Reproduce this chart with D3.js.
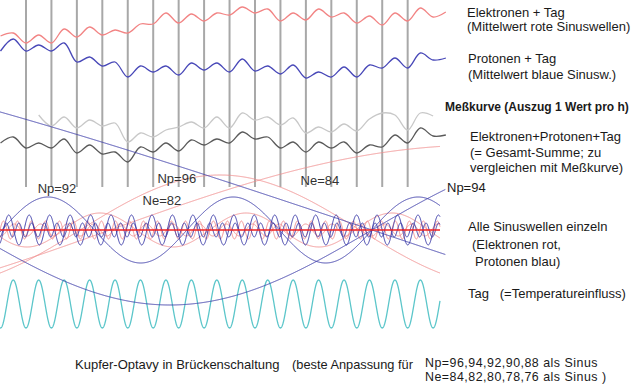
<!DOCTYPE html>
<html><head><meta charset="utf-8">
<script src="https://cdn.jsdelivr.net/npm/d3@7"></script>
<style>
body{margin:0;background:#fff}
svg{display:block}
text{font-family:"Liberation Sans",Arial,sans-serif;fill:#1a1a1a;white-space:pre}
</style>
</head><body>
<svg id="c" width="636" height="392"></svg>
<script>
// ---- time axis (hours), sampled every 12 h ----
const hours = [0,12,24,36,48,60,72,84,96,108,120,132,144,156,168,180,192,204,216,228,240,252,264,276,288,300,312,324,336,348,360,372,384,396,408,420];
// Elektronen + Tag (mean of red sine waves), level units
const electronsTag = [356,359,349,357,349,363,355,365,357,362,359,368,368,379,369,378,371,379,377,385,379,383,371,379,372,383,375,379,369,376,367,379,371,384,375,380];
// Protonen + Tag (mean of blue sine waves)
const protonsTag = [341,353,341,347,341,349,330,335,326,330,315,326,320,326,317,329,322,329,320,333,321,326,318,327,314,320,315,325,315,327,324,334,324,339,332,334];
// Meßkurve (measured), starts at 36 h
const measHours = [36,48,60,72,84,96,108,120,132,144,156,168,180,192,204,216,228,240,252,264,276,288,300,312,324,336,348,360,372,384,396,408];
const measured = [277,266,275,264,272,266,269,250,259,255,262,265,270,264,275,264,279,272,275,267,274,259,265,260,268,261,273,279,277,262,279,276];
// Elektronen + Protonen + Tag (total)
const totalSum = [249,255,244,249,244,253,239,247,238,240,230,245,240,249,241,252,247,253,249,260,253,255,244,250,240,250,244,250,239,247,245,257,249,264,256,257];
// day markers (hours)
const dayLines = [24,48,72,96,120,144,168,192,216,240,264,288,312,336,360,384];

// individual sine waves: label, amplitude (level units), period (h), zero crossing (h)
const waveNames   = ["Np=96","Np=94","Np=92","Np=90","Np=88","Ne=84","Ne=82","Ne=80","Ne=78","Ne=76"];
const waveKind    = ["p","p","p","p","p","e","e","e","e","e"];
const waveAmps    = [-223, 75, 33, 15, 7, 85, 55, 17, 9, 6];
const wavePeriods = [3950, 762, 174.5, 19.3, 12, 1411, 528, 137.7, 13.2, 25];
const waveZeros   = [350.3, 350.3, 350.3, 350.3, 350.3, 103.2, 75, 59.4, 131.5, 131.5];
const bandCenter = 162;

// Tag (temperature) wave
const tagPeriod = 24, tagAmp = 24, tagCenter = 88;

const svg = d3.select("#c");
const x = d3.scaleLinear().domain([-0.5, 414.5]).range([0, 440]);
const y = d3.scaleLinear().domain([0, 392]).range([392, 0]);
const line = d3.line().x(d => x(d[0])).y(d => y(d[1])).curve(d3.curveCatmullRom);
const lineLin = d3.line().x(d => x(d[0])).y(d => y(d[1]));

// vertical day lines
svg.append("g").selectAll("line").data(dayLines).join("line")
  .attr("x1", d => x(d)).attr("x2", d => x(d))
  .attr("y1", y(392)).attr("y2", y(205))
  .attr("stroke", "#a8a8a8").attr("stroke-width", 2);

// top curves
function drawSeries(xs, vs, color, w) {
  svg.append("path").datum(xs.map((h, i) => [h, vs[i]]))
    .attr("d", line).attr("fill", "none").attr("stroke", color).attr("stroke-width", w)
    .attr("stroke-linejoin", "round");
}
drawSeries(hours, electronsTag, "#f28484", 1.3);
drawSeries(hours, protonsTag, "#4848b8", 1.3);
drawSeries(measHours, measured, "#c8c8c8", 1.3);
drawSeries(hours, totalSum, "#5a5a5a", 1.3);

// tag wave
const tRange = d3.range(-0.5, 414.6, 0.25);
svg.append("path")
  .datum(tRange.map(t => [t, tagCenter - tagAmp * Math.cos(2 * Math.PI * t / tagPeriod)]))
  .attr("d", lineLin).attr("fill", "none").attr("stroke", "#5cc6ca").attr("stroke-width", 1.3);

// individual sine waves
const order = [5,6,7,8,9,0,1,2,3,4];
order.forEach(i => {
  const endT = waveKind[i] === "p" && Math.abs(waveAmps[i]) > 50 ? 419.5 : 414.5;
  const pts = d3.range(-0.5, endT + 0.01, 0.25).map(t =>
    [t, bandCenter + waveAmps[i] * Math.sin(2 * Math.PI * (t - waveZeros[i]) / wavePeriods[i])]);
  svg.append("path").datum(pts).attr("d", lineLin).attr("fill", "none")
    .attr("stroke", waveKind[i] === "p" ? "#3a3aa8" : "#f08c8c")
    .attr("stroke-width", 1).attr("stroke-opacity", waveKind[i] === "p" ? 0.95 : 0.9);
});

// band center line
svg.append("line").attr("x1", x(-0.5)).attr("x2", x(414.5))
  .attr("y1", y(bandCenter)).attr("y2", y(bandCenter))
  .attr("stroke", "#ee2020").attr("stroke-width", 1.6);

// wave labels
const labels = [
  {t: "Np=92", h: 35, v: 199}, {t: "Np=96", h: 148, v: 209},
  {t: "Ne=82", h: 134, v: 187}, {t: "Ne=84", h: 283, v: 207}
];
svg.append("g").selectAll("text").data(labels).join("text")
  .attr("x", d => x(d.h)).attr("y", d => y(d.v)).attr("font-size", 13).style("fill", "#333")
  .text(d => d.t);

// right side legend texts
const legend = [
  ["Elektronen + Tag", 467, 17, 13, "normal", 0],
  ["(Mittelwert rote Sinuswellen)", 467, 31, 13, "normal", 0],
  ["Protonen + Tag", 468, 63, 13, "normal", 0],
  ["(Mittelwert blaue Sinusw.)", 468, 79, 13, "normal", 0],
  ["Meßkurve (Auszug 1 Wert pro h)", 445, 111, 12, "bold", 0],
  ["Elektronen+Protonen+Tag", 470, 141, 13, "normal", 0],
  ["(= Gesamt-Summe; zu", 470, 157, 13, "normal", 0],
  ["vergleichen mit Meßkurve)", 470, 172, 13, "normal", 0],
  ["Np=94", 447, 192, 13, "normal", 0],
  ["Alle Sinuswellen einzeln", 468, 231, 13, "normal", 0],
  ["(Elektronen rot,", 472, 249, 13, "normal", 0],
  ["Protonen blau)", 475, 266, 13, "normal", 0],
  ["Tag   (=Temperatureinfluss)", 468, 298, 13, "normal", 0],
  ["Kupfer-Optavy in Brückenschaltung", 75, 369, 13, "normal", 0],
  ["(beste Anpassung für", 292, 369, 12.8, "normal", 0],
  ["Np=96,94,92,90,88 als Sinus", 425, 367, 12.4, "normal", 0.5],
  ["Ne=84,82,80,78,76 als Sinus )", 425, 381, 12.4, "normal", 0.5]
];
svg.append("g").selectAll("text").data(legend).join("text")
  .attr("x", d => d[1]).attr("y", d => d[2]).attr("font-size", d => d[3])
  .attr("font-weight", d => d[4]).attr("letter-spacing", d => d[5])
  .text(d => d[0]);
</script>
</body></html>
